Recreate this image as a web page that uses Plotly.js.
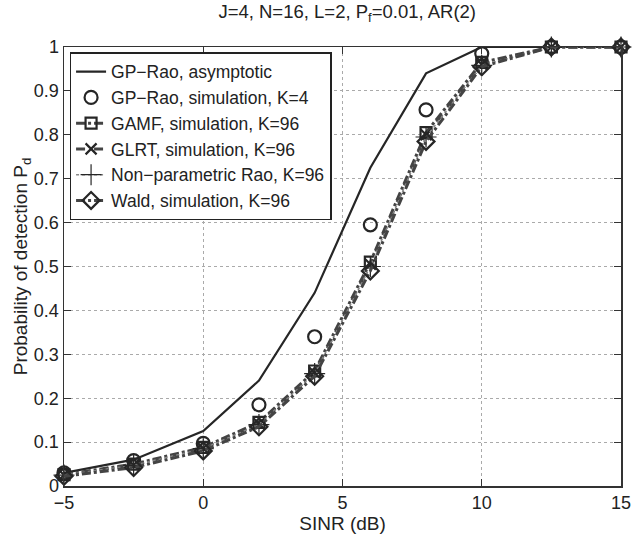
<!DOCTYPE html>
<html>
<head>
<meta charset="utf-8">
<script src="https://cdn.plot.ly/plotly-3.0.1.min.js"></script>
<style>html,body{margin:0;padding:0;background:#fff;}#chart{width:643px;height:535px;}</style>
</head>
<body>
<div id="chart"></div>
<script>
const sinr = [-5, -2.5, 0, 2, 4, 6, 8, 10, 12.5, 15];
const gpRaoAsym = [0.03, 0.06, 0.125, 0.24, 0.44, 0.725, 0.94, 1.0, 1.0, 1.0];
const gpRaoSim = [0.03, 0.058, 0.097, 0.185, 0.34, 0.595, 0.857, 0.985, 1.0, 1.0];
const gamfSim = [0.026, 0.05, 0.088, 0.145, 0.262, 0.51, 0.805, 0.965, 1.0, 1.0];
const glrtSim = [0.025, 0.048, 0.086, 0.142, 0.258, 0.505, 0.80, 0.96, 1.0, 1.0];
const npRao = [0.025, 0.047, 0.085, 0.14, 0.256, 0.50, 0.795, 0.958, 1.0, 1.0];
const waldSim = [0.022, 0.042, 0.08, 0.135, 0.25, 0.49, 0.785, 0.955, 1.0, 1.0];
const names = ["GP\u2212Rao, asymptotic", "GP\u2212Rao, simulation, K=4", "GAMF, simulation, K=96",
  "GLRT, simulation, K=96", "Non\u2212parametric Rao, K=96", "Wald, simulation, K=96"];

const dark = "#262626";
const traces = [
  {x: sinr, y: gpRaoAsym, name: names[0], mode: "lines", line: {color: dark, width: 2.2}},
  {x: sinr, y: gpRaoSim, name: names[1], mode: "markers",
   marker: {symbol: "circle-open", size: 13, color: dark, line: {width: 2.2, color: dark}}},
  {x: sinr, y: gamfSim, name: names[2], mode: "lines+markers", line: {color: "#444", width: 3, dash: "dashdot"},
   marker: {symbol: "square-open", size: 11, color: dark, line: {width: 2.2, color: dark}}},
  {x: sinr, y: glrtSim, name: names[3], mode: "lines+markers", line: {color: "#444", width: 3, dash: "dash"},
   marker: {symbol: "x-thin-open", size: 11, color: dark, line: {width: 2.2, color: dark}}},
  {x: sinr, y: npRao, name: names[4], mode: "lines+markers", line: {color: "#888", width: 1.5, dash: "dot"},
   marker: {symbol: "cross-thin-open", size: 15, color: dark, line: {width: 1.2, color: dark}}},
  {x: sinr, y: waldSim, name: names[5], mode: "lines+markers", line: {color: "#444", width: 3, dash: "dashdot"},
   marker: {symbol: "diamond-open", size: 13, color: dark, line: {width: 2.2, color: dark}}}
];
traces.forEach(t => t.cliponaxis = false);

const fam = "Liberation Sans, Arial, sans-serif";
const font = {family: fam, size: 18, color: "#222"};
const layout = {
  width: 643, height: 535,
  margin: {l: 64, r: 22, t: 47, b: 49},
  paper_bgcolor: "#fff", plot_bgcolor: "#fff",
  font: font,
  showlegend: true,
  title: {text: "J=4, N=16, L=2, P<sub>f</sub>=0.01, AR(2)", x: 0.54, xanchor: "center", y: 0.99, yanchor: "top",
          font: {family: fam, size: 18.5, color: "#222"}},
  xaxis: {range: [-5, 15], tickvals: [-5, 0, 5, 10, 15], ticks: "inside", ticklen: 7, tickcolor: "#333",
          tickfont: {family: fam, size: 18, color: "#222"},
          showline: true, linecolor: "#333", linewidth: 1.5, mirror: "ticks",
          showgrid: true, gridcolor: "#aaa", griddash: "dot", gridwidth: 1, zeroline: false,
          title: {text: "SINR (dB)", standoff: 2, font: {family: fam, size: 19, color: "#222"}}},
  yaxis: {range: [0, 1], tickvals: [0, 0.1, 0.2, 0.3, 0.4, 0.5, 0.6, 0.7, 0.8, 0.9, 1],
          ticktext: ["0", "0.1", "0.2", "0.3", "0.4", "0.5", "0.6", "0.7", "0.8", "0.9", "1"],
          ticks: "inside", ticklen: 7, tickcolor: "#333",
          tickfont: {family: fam, size: 18, color: "#222"},
          showline: true, linecolor: "#333", linewidth: 1.5, mirror: "ticks",
          showgrid: true, gridcolor: "#aaa", griddash: "dot", gridwidth: 1, zeroline: false,
          title: {text: "Probability of detection P<sub>d</sub>", standoff: 0, font: {family: fam, size: 19, color: "#222"}}},
  legend: {x: 0.01, y: 0.988, xanchor: "left", yanchor: "top", bgcolor: "#fff", bordercolor: "#222", borderwidth: 1.5,
           font: {family: fam, size: 17.5, color: "#222"}, tracegroupgap: 0, itemwidth: 30}
};
Plotly.newPlot("chart", traces, layout, {displayModeBar: false, staticPlot: true});
</script>
</body>
</html>
